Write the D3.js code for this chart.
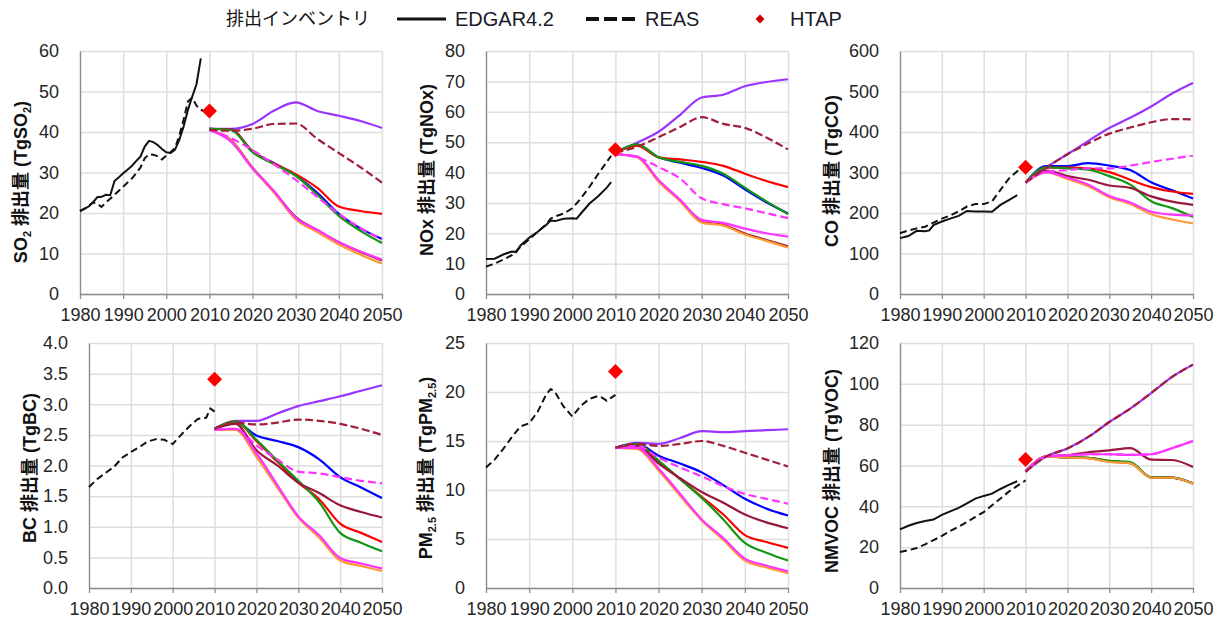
<!DOCTYPE html>
<html><head><meta charset="utf-8">
<script src="https://cdn.jsdelivr.net/npm/d3@7"></script>
<style>
body{margin:0;background:#fff;}
svg{display:block;}
text{font-family:"Liberation Sans",Arial,"Noto Sans CJK JP",sans-serif;}
</style></head><body>
<svg id="chart" width="1222" height="621"></svg>
<script>
// ---- shared axes / years ----
const decadeTicks = [1980, 1990, 2000, 2010, 2020, 2030, 2040, 2050];
const futureYears = [2010, 2015, 2020, 2025, 2030, 2035, 2040, 2045, 2050];

// scenario line styles, listed in drawing order (bottom to top)
const scenarioColors = ["#9933ff", "#0000ff", "#ff0000", "#139613", "#99183a", "#ff9933", "#ff33ff", "#ff33ff", "#a0203c"];
const scenarioDashes = [null, null, null, null, null, null, null, "8,4", "8,3.5"];

// ---- SO2 (Tg) ----
const so2Ticks = [0, 10, 20, 30, 40, 50, 60];
const so2Edgar = [[1980,20.5],[1981,21.0],[1982,21.6],[1983,22.6],[1984,23.9],[1985,24.0],[1986,24.5],[1987,24.4],[1988,27.9],[1989,28.8],[1990,29.8],[1991,30.7],[1992,31.6],[1993,32.8],[1994,33.9],[1995,36.4],[1996,37.8],[1997,37.5],[1998,36.8],[1999,35.8],[2000,35.0],[2001,34.8],[2002,35.6],[2003,38.0],[2004,41.3],[2005,45.4],[2006,48.7],[2007,51.8],[2008,58.2]];
const so2Reas = [[1980,20.5],[1981,21.0],[1982,21.8],[1983,22.6],[1984,22.3],[1985,21.5],[1986,22.6],[1987,23.5],[1988,24.5],[1989,25.5],[1990,26.5],[1991,27.5],[1992,28.5],[1993,29.8],[1994,31.2],[1995,33.5],[1996,34.5],[1997,34.4],[1998,34.0],[1999,33.2],[2000,34.2],[2001,35.0],[2002,36.0],[2003,39.0],[2004,43.0],[2005,47.5],[2006,48.5],[2007,46.5],[2008,45.5],[2009,45.0]];
const so2Htap = [[2010, 45.2]];
const so2Future = [
  [40.8, 40.8, 42.0, 45.3, 47.3, 45.2, 44.0, 42.7, 41.0],
  [40.8, 40.6, 35.2, 32.3, 29.3, 25.0, 19.8, 16.2, 13.6],
  [40.8, 40.6, 35.2, 32.2, 29.6, 26.2, 21.6, 20.5, 19.8],
  [40.8, 40.5, 35.0, 32.0, 29.2, 24.5, 19.3, 15.6, 12.6],
  [40.5, 38.0, 31.2, 25.3, 19.0, 15.8, 12.8, 10.4, 8.3],
  [40.5, 37.8, 31.0, 25.0, 18.4, 15.3, 12.2, 9.7, 7.5],
  [40.5, 37.6, 31.0, 25.3, 18.8, 15.8, 12.8, 10.5, 8.5],
  [40.5, 38.5, 35.5, 32.0, 28.2, 24.0, 19.8, 16.3, 13.4],
  [40.5, 40.3, 40.8, 42.0, 42.1, 38.3, 34.8, 31.3, 27.5]
];

// ---- NOx (Tg) ----
const noxTicks = [0, 10, 20, 30, 40, 50, 60, 70, 80];
const noxEdgar = [[1980,11.5],[1982,11.6],[1984,13.0],[1986,14.0],[1987,13.8],[1988,16.0],[1990,18.5],[1992,20.5],[1994,22.8],[1995,24.2],[1996,24.0],[1998,24.8],[2000,24.9],[2001,24.8],[2002,26.5],[2004,29.8],[2006,32.2],[2008,35.0],[2009,36.8]];
const noxReas = [[1980,9.0],[1982,10.0],[1984,11.3],[1986,12.8],[1988,15.5],[1990,18.0],[1992,20.5],[1994,23.0],[1995,24.8],[1996,25.5],[1998,26.5],[2000,28.2],[2002,31.5],[2004,35.3],[2006,39.5],[2008,43.5],[2009,45.5]];
const noxHtap = [[2010, 47.5]];
const noxFuture = [
  [46.5, 49.8, 53.4, 59.0, 64.7, 65.6, 68.4, 69.8, 70.7],
  [46.5, 49.2, 45.0, 43.2, 41.5, 39.0, 34.5, 30.2, 26.5],
  [46.5, 48.8, 45.0, 44.3, 43.5, 42.2, 39.6, 37.2, 35.2],
  [46.5, 49.3, 45.0, 43.5, 42.2, 39.6, 35.0, 30.5, 26.3],
  [46.0, 45.2, 37.3, 30.8, 23.8, 22.8, 19.9, 17.8, 15.7],
  [46.0, 45.0, 37.0, 30.5, 23.5, 22.5, 19.6, 17.5, 15.3],
  [46.0, 45.3, 37.5, 31.0, 24.4, 23.4, 21.5, 20.0, 18.9],
  [46.0, 45.0, 41.8, 38.0, 31.5, 29.6, 28.2, 26.6, 25.0],
  [46.5, 48.5, 51.6, 55.0, 58.2, 56.0, 54.7, 51.5, 47.6]
];

// ---- CO (Tg) ----
const coTicks = [0, 100, 200, 300, 400, 500, 600];
const coEdgar = [[1980,138],[1982,143],[1984,156],[1986,155],[1987,157],[1988,170],[1990,179],[1992,186],[1994,193],[1996,205],[1998,204],[2000,204],[2002,203],[2004,220],[2006,232],[2008,244]];
const coReas = [[1980,150],[1982,157],[1984,162],[1986,166],[1988,176],[1990,186],[1992,194],[1994,204],[1996,216],[1998,222],[2000,222],[2002,229],[2004,257],[2006,285],[2008,303],[2009,314]];
const coHtap = [[2010, 313]];
const coFuture = [
  [275, 313, 345, 378, 410, 435, 463, 495, 521],
  [275, 316, 316, 323, 317, 306, 276, 256, 236],
  [275, 312, 312, 310, 301, 282, 264, 253, 247],
  [275, 313, 310, 307, 291, 270, 229, 212, 190],
  [275, 305, 291, 282, 268, 262, 241, 228, 220],
  [275, 300, 284, 266, 239, 222, 197, 184, 174],
  [275, 301, 287, 270, 242, 226, 203, 196, 194],
  [275, 302, 306, 310, 310, 317, 326, 334, 342],
  [275, 312, 345, 372, 396, 411, 424, 432, 431]
];

// ---- BC (Tg) ----
const bcTicks = [0, 0.5, 1, 1.5, 2, 2.5, 3, 3.5, 4];
const bcEdgar = [];
const bcReas = [[1980,1.65],[1982,1.78],[1984,1.88],[1986,1.98],[1988,2.13],[1990,2.22],[1992,2.30],[1994,2.39],[1996,2.43],[1998,2.42],[2000,2.35],[2002,2.50],[2004,2.64],[2006,2.76],[2008,2.78],[2009,2.93],[2010,2.88]];
const bcHtap = [[2010, 3.41]];
const bcFuture = [
  [2.60, 2.73, 2.73, 2.85, 2.97, 3.05, 3.13, 3.22, 3.31],
  [2.60, 2.71, 2.49, 2.40, 2.30, 2.10, 1.81, 1.64, 1.47],
  [2.60, 2.72, 2.40, 2.06, 1.72, 1.45, 1.05, 0.90, 0.75],
  [2.60, 2.72, 2.42, 2.08, 1.75, 1.40, 0.90, 0.74, 0.60],
  [2.60, 2.68, 2.25, 2.00, 1.72, 1.55, 1.35, 1.24, 1.15],
  [2.58, 2.58, 2.14, 1.64, 1.15, 0.82, 0.45, 0.36, 0.28],
  [2.58, 2.60, 2.20, 1.68, 1.17, 0.86, 0.49, 0.40, 0.32],
  [2.60, 2.60, 2.33, 2.10, 1.90, 1.87, 1.81, 1.75, 1.71],
  [2.60, 2.70, 2.67, 2.70, 2.75, 2.73, 2.68, 2.60, 2.50]
];

// ---- PM2.5 (Tg) ----
const pmTicks = [0, 5, 10, 15, 20, 25];
const pmEdgar = [];
const pmReas = [[1980,12.3],[1982,13.1],[1984,14.2],[1986,15.4],[1988,16.5],[1990,16.8],[1992,18.0],[1994,19.8],[1995,20.3],[1996,20.0],[1998,18.5],[2000,17.5],[2002,18.6],[2004,19.3],[2006,19.6],[2007,19.4],[2008,19.1],[2009,19.4],[2010,19.7]];
const pmHtap = [[2010, 22.1]];
const pmFuture = [
  [14.3, 14.8, 14.7, 15.3, 16.0, 15.9, 16.0, 16.1, 16.2],
  [14.3, 14.7, 13.5, 12.7, 11.8, 10.5, 9.1, 8.1, 7.4],
  [14.3, 14.7, 12.9, 11.1, 9.3, 7.5, 5.4, 4.7, 4.1],
  [14.3, 14.7, 13.0, 11.1, 9.2, 7.0, 4.6, 3.6, 2.8],
  [14.3, 14.5, 12.7, 11.2, 9.8, 8.7, 7.5, 6.7, 6.1],
  [14.3, 14.2, 12.0, 9.4, 6.9, 4.9, 2.8, 2.1, 1.5],
  [14.3, 14.3, 12.2, 9.6, 7.0, 5.1, 3.0, 2.3, 1.7],
  [14.3, 14.5, 13.3, 12.3, 11.4, 10.4, 9.6, 9.1, 8.6],
  [14.3, 14.7, 14.5, 14.7, 15.0, 14.5, 13.8, 13.1, 12.4]
];

// ---- NMVOC (Tg) ----
const vocTicks = [0, 20, 40, 60, 80, 100, 120];
const vocEdgar = [[1980,28.7],[1982,30.5],[1984,31.8],[1986,32.8],[1988,33.5],[1990,35.8],[1992,37.5],[1994,39.2],[1996,41.5],[1998,43.8],[2000,45.1],[2002,46.2],[2004,48.5],[2006,50.5],[2008,52.3]];
const vocReas = [[1980,17.6],[1982,18.5],[1984,19.6],[1986,21.4],[1988,23.4],[1990,25.5],[1992,27.9],[1994,30.0],[1996,32.3],[1998,34.8],[2000,37.2],[2002,40.5],[2004,43.8],[2006,47.2],[2008,50.0],[2010,52.7]];
const vocHtap = [[2010, 62.9]];
const vocFuture = [
  [57, 64.5, 68.3, 74.0, 81.3, 87.9, 95.5, 103.4, 109.4],
  [57, 64.3, 64.0, 63.6, 62.0, 61.2, 54.2, 54.1, 51.2],
  [57, 64.3, 64.0, 63.7, 62.1, 61.4, 54.2, 54.1, 51.2],
  [57, 64.3, 64.0, 63.8, 62.3, 61.7, 54.2, 54.1, 51.2],
  [57, 64.5, 65.0, 66.5, 67.4, 68.5, 62.9, 62.7, 59.3],
  [57, 64.3, 63.9, 63.5, 61.7, 61.0, 54.0, 54.0, 51.1],
  [57, 64.5, 65.0, 65.5, 65.5, 65.2, 65.5, 68.5, 72.0],
  [57, 64.5, 65.0, 65.5, 65.5, 65.2, 65.5, 68.5, 72.0],
  [57, 64.5, 68.3, 74.0, 81.3, 87.9, 95.5, 103.4, 109.4]
];

// axis titles: [text, isSubscript]
const so2Title = [["SO",0],["2",1],[" 排出量 (TgSO",0],["2",1],[")",0]];
const noxTitle = [["NOx 排出量 (TgNOx)",0]];
const coTitle = [["CO 排出量 (TgCO)",0]];
const bcTitle = [["BC 排出量 (TgBC)",0]];
const pmTitle = [["PM",0],["2.5",1],[" 排出量 (TgPM",0],["2.5",1],[")",0]];
const vocTitle = [["NMVOC 排出量 (TgVOC)",0]];

const fmtInt = d3.format("d");
const fmtOne = d3.format(".1f");

const pollutants = [
  {edgar: so2Edgar, reas: so2Reas, htap: so2Htap, future: so2Future, ticks: so2Ticks, fmt: fmtInt, title: so2Title},
  {edgar: noxEdgar, reas: noxReas, htap: noxHtap, future: noxFuture, ticks: noxTicks, fmt: fmtInt, title: noxTitle},
  {edgar: coEdgar, reas: coReas, htap: coHtap, future: coFuture, ticks: coTicks, fmt: fmtInt, title: coTitle},
  {edgar: bcEdgar, reas: bcReas, htap: bcHtap, future: bcFuture, ticks: bcTicks, fmt: fmtOne, title: bcTitle},
  {edgar: pmEdgar, reas: pmReas, htap: pmHtap, future: pmFuture, ticks: pmTicks, fmt: fmtInt, title: pmTitle},
  {edgar: vocEdgar, reas: vocReas, htap: vocHtap, future: vocFuture, ticks: vocTicks, fmt: fmtInt, title: vocTitle}
];

// plot frames (pixels) and axis-title centres
const frames = [
  {l: 80,  r: 382,  t: 51,  b: 294, tx: 21,  ty: 182},
  {l: 486, r: 788,  t: 51,  b: 294, tx: 427, ty: 170},
  {l: 900, r: 1193, t: 51,  b: 294, tx: 832, ty: 171},
  {l: 89,  r: 382,  t: 343, b: 588, tx: 30,  ty: 468},
  {l: 486, r: 788,  t: 343, b: 588, tx: 426, ty: 468},
  {l: 900, r: 1193, t: 343, b: 588, tx: 832, ty: 471}
];

const svg = d3.select("#chart");
const FONT = '"Liberation Sans",Arial,"Noto Sans CJK JP",sans-serif';

pollutants.forEach((p, i) => {
  const f = frames[i];
  const x = d3.scaleLinear().domain([1980, 2050]).range([f.l, f.r]);
  const y = d3.scaleLinear().domain([0, d3.max(p.ticks)]).range([f.b, f.t]);
  const g = svg.append("g");

  // grid
  const gridStyle = s => { s.select(".domain").remove(); s.selectAll("line").attr("stroke", "#dedede").attr("stroke-width", 1.5); };
  g.append("g").attr("transform", `translate(0,${f.b})`)
    .call(d3.axisBottom(x).tickValues(decadeTicks).tickSize(-(f.b - f.t)).tickFormat(""))
    .call(gridStyle);
  g.append("g").attr("transform", `translate(${f.l},0)`)
    .call(d3.axisLeft(y).tickValues(p.ticks).tickSize(-(f.r - f.l)).tickFormat(""))
    .call(gridStyle);

  // axes
  const xa = g.append("g").attr("transform", `translate(0,${f.b})`)
    .call(d3.axisBottom(x).tickValues(decadeTicks).tickSize(5).tickSizeOuter(0).tickPadding(9.5).tickFormat(fmtInt));
  const ya = g.append("g").attr("transform", `translate(${f.l},0)`)
    .call(d3.axisLeft(y).tickValues(p.ticks).tickSize(0).tickSizeOuter(0).tickPadding(21).tickFormat(p.fmt));
  [xa, ya].forEach(a => {
    a.attr("font-size", 18).attr("font-family", FONT);
    a.select(".domain").attr("stroke", "#8c8c8c").attr("stroke-width", 1.3);
    a.selectAll(".tick line").attr("stroke", "#8c8c8c").attr("stroke-width", 1.3);
    a.selectAll("text").attr("fill", "#262626");
  });

  // historical inventories
  const hist = d3.line().x(d => x(d[0])).y(d => y(d[1]));
  if (p.reas.length) g.append("path").attr("d", hist(p.reas)).attr("fill", "none")
    .attr("stroke", "#111").attr("stroke-width", 2).attr("stroke-dasharray", "7,4");
  if (p.edgar.length) g.append("path").attr("d", hist(p.edgar)).attr("fill", "none")
    .attr("stroke", "#111").attr("stroke-width", 2);

  // future scenarios
  const fut = d3.line().x((d, k) => x(futureYears[k])).y(d => y(d)).curve(d3.curveMonotoneX);
  p.future.forEach((vals, k) => {
    const path = g.append("path").attr("d", fut(vals)).attr("fill", "none")
      .attr("stroke", scenarioColors[k]).attr("stroke-width", 2.2);
    if (scenarioDashes[k]) path.attr("stroke-dasharray", scenarioDashes[k]);
  });

  // HTAP point
  g.selectAll(".htap").data(p.htap).join("path")
    .attr("transform", d => `translate(${x(d[0])},${y(d[1])})`)
    .attr("d", "M0,-7.5L7.5,0L0,7.5L-7.5,0Z").attr("fill", "#ff0000");

  // axis title
  const t = g.append("text")
    .attr("transform", `translate(${f.tx + 6},${f.ty}) rotate(-90)`)
    .attr("text-anchor", "middle").attr("font-weight", "bold").attr("font-size", 18)
    .attr("fill", "#111").attr("font-family", FONT);
  let shifted = false;
  p.title.forEach(([txt, sub]) => {
    const ts = t.append("tspan").text(txt);
    if (sub) { ts.attr("font-size", 11).attr("dy", shifted ? 0 : 4); shifted = true; }
    else { ts.attr("dy", shifted ? -4 : 0); shifted = false; }
  });
});

// legend
const lg = svg.append("g").attr("font-family", FONT);
lg.append("text").attr("x", 226).attr("y", 19).attr("dy", "0.35em").attr("font-size", 18)
  .attr("font-family", '"Noto Sans CJK JP",sans-serif').attr("fill", "#111").text("排出インベントリ");
lg.append("line").attr("x1", 397).attr("x2", 446).attr("y1", 19).attr("y2", 19)
  .attr("stroke", "#111").attr("stroke-width", 3);
lg.append("text").attr("x", 455).attr("y", 19).attr("dy", "0.35em").attr("font-size", 20)
  .attr("fill", "#1a1a2a").text("EDGAR4.2");
lg.append("line").attr("x1", 586).attr("x2", 635).attr("y1", 19).attr("y2", 19)
  .attr("stroke", "#111").attr("stroke-width", 4).attr("stroke-dasharray", "13,5");
lg.append("text").attr("x", 645).attr("y", 19).attr("dy", "0.35em").attr("font-size", 20)
  .attr("fill", "#1a1a2a").text("REAS");
lg.append("path").attr("transform", "translate(760,19)").attr("d", "M0,-4.5L4.5,0L0,4.5L-4.5,0Z").attr("fill", "#cc0000");
lg.append("text").attr("x", 790).attr("y", 19).attr("dy", "0.35em").attr("font-size", 20)
  .attr("fill", "#1a1a2a").text("HTAP");
</script>
</body></html>
